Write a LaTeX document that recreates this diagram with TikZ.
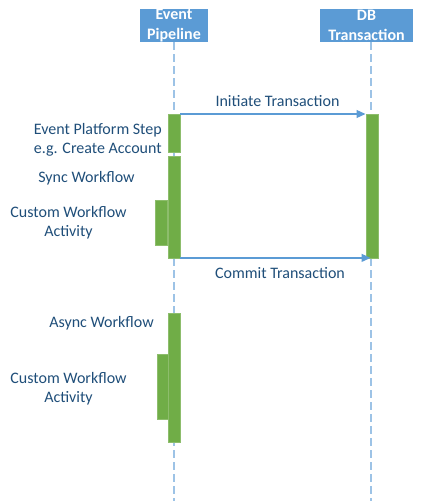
\documentclass[tikz,border=0pt]{standalone}
\usepackage{fontspec}
\setmainfont{Carlito}
\usetikzlibrary{arrows.meta}
\definecolor{headblue}{HTML}{5B9BD5}
\definecolor{lineblue}{HTML}{9DC3E6}
\definecolor{textblue}{HTML}{1F4E79}
\definecolor{bargreen}{HTML}{70AD47}

\begin{document}
\begin{tikzpicture}
  [x=1pt,y=-1pt,
head/.style={fill=headblue,text=white,font=\fontsize{16}{19.5}\selectfont\bfseries,align=center,minimum height=33pt,inner sep=0pt},
life/.style={lineblue,line width=1.6pt,dash pattern=on 8pt off 4pt},
bar/.style={fill=bargreen,draw=bargreen!80!white,line width=0.4pt,minimum width=12pt,inner sep=0pt,anchor=north west},
msg/.style={headblue,line width=1.2pt,-{Triangle[length=9pt,width=8pt]}},
lbl/.style={text=textblue,font=\fontsize{16}{19}\selectfont,align=center,inner sep=0pt}]

\useasboundingbox (0,0) rectangle (425,501);

% lifeline heads
\node [head,minimum width=68pt] (EP) at (174,25.5) {Event\\Pipeline};
\node [head,minimum width=93pt] (DB) at (366.5,25.5) {DB\\Transaction};

\coordinate (EPend) at (174,501);
\coordinate (DBend) at (371,501);
\draw [life] (EP.south) -- (EPend);
\draw [life] ([xshift=4.5pt]DB.south) -- (DBend);

% activation bars
\node [bar,minimum height=38pt] (step) at (168,114) {};
\node [bar,minimum height=102pt] (sync) at (168,155.5) {};
\node [bar,minimum height=45pt] (act1) at (154.5,200) {};
\node [bar,minimum height=143.5pt] (trans) at (365.5,114) {};
\node [bar,minimum height=129pt] (async) at (168,312.5) {};
\node [bar,minimum height=65pt,minimum width=11pt] (act2) at (157,354) {};

% messages
\draw [msg] (step.north east) -- (trans.north west);
\draw [msg] (sync.south east) -- ([xshift=5pt]trans.south west);

% labels
\node [lbl] at (277.5,101) {Initiate Transaction};
\node [lbl] at (280,273) {Commit Transaction};
\node [lbl,anchor=east] at (162,139.5) {Event Platform Step\\e.g. Create Account};
\node [lbl] at (86.5,178) {Sync Workflow};
\node [lbl] at (68.5,223) {Custom Workflow\\Activity};
\node [lbl] at (101.5,323) {Async Workflow};
\node [lbl] at (68.5,388.5) {Custom Workflow\\Activity};

\end{tikzpicture}
\end{document}
